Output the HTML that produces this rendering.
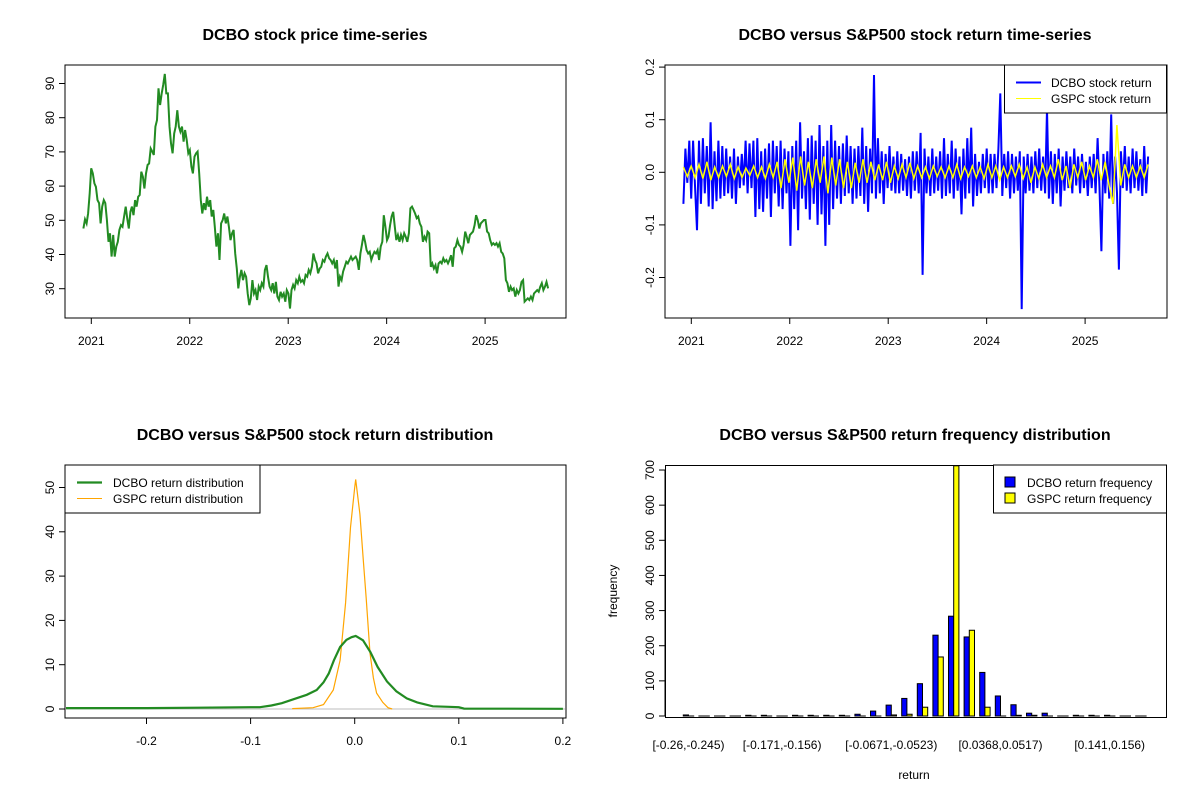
<!DOCTYPE html>
<html><head><meta charset="utf-8"><style>
body{margin:0;background:#fff}
svg{display:block;font-family:"Liberation Sans",Arial,sans-serif}
</style></head><body>
<svg id="c" width="1200" height="800" viewBox="0 0 1200 800" xmlns="http://www.w3.org/2000/svg">
<rect width="1200" height="800" fill="#fff"/>
<g font-weight="bold" font-size="16" text-anchor="middle">
<text x="315" y="40">DCBO stock price time-series</text>
<text x="915" y="40">DCBO versus S&amp;P500 stock return time-series</text>
<text x="315" y="440">DCBO versus S&amp;P500 stock return distribution</text>
<text x="915" y="440">DCBO versus S&amp;P500 return frequency distribution</text>
</g>
<text x="914" y="779" font-size="12" text-anchor="middle">return</text>
<text x="617" y="591" font-size="12" text-anchor="middle" transform="rotate(-90 617 591)">frequency</text>
</svg>
<script>
// ---- price series (DCBO), evenly spaced from start to end date
const priceStart = 2020.92, priceEnd = 2025.64;
const priceValues = [47.6,50.3,49.1,52.0,57.9,65.2,63.7,60.8,59.8,55.9,55.0,49.1,54.0,55.9,55.0,50.1,43.7,46.2,39.4,45.7,39.4,42.3,43.7,47.2,48.6,48.1,51.1,54.0,50.6,47.6,52.5,54.0,51.5,55.9,54.0,56.9,57.4,64.2,62.7,59.3,63.7,66.2,66.6,71.0,70.1,69.1,77.4,79.3,88.6,83.7,87.1,89.6,92.8,87.1,87.1,77.4,72.5,69.6,75.4,77.4,82.2,77.4,75.9,77.4,73.0,76.4,73.5,69.6,70.5,65.7,63.7,68.6,69.6,70.1,63.7,55.9,52.0,55.0,53.0,56.9,54.0,55.9,51.1,53.0,48.1,42.3,46.2,38.4,49.1,50.1,52.0,49.1,51.1,48.1,44.2,46.2,47.2,40.3,35.9,30.1,33.5,35.5,32.5,34.5,33.5,28.6,25.2,27.2,32.5,28.6,29.6,26.7,30.6,29.6,31.6,30.6,35.5,36.9,33.5,30.6,29.6,31.6,28.6,32.0,27.7,26.7,29.1,27.7,28.6,26.2,29.6,28.6,24.2,29.6,31.1,30.1,32.5,31.6,33.5,32.0,32.5,31.6,34.0,33.5,35.5,34.5,36.4,40.3,38.4,37.4,34.5,35.9,36.4,38.4,37.9,39.4,40.3,38.9,38.4,37.4,38.4,35.9,38.4,30.6,33.5,32.5,35.0,36.4,37.9,37.4,38.4,39.4,38.4,38.9,39.4,38.4,35.5,40.3,42.8,45.7,43.7,41.3,40.3,40.8,38.4,39.8,40.8,40.3,41.3,38.4,42.3,43.7,51.5,48.1,44.2,45.2,48.6,51.1,52.5,48.1,44.2,45.7,43.7,45.7,44.2,46.2,45.2,43.7,46.2,53.5,54.0,53.0,52.0,50.6,51.1,49.1,48.1,43.7,45.2,44.2,46.7,46.2,36.4,37.4,35.9,36.9,34.5,37.4,37.9,37.4,38.9,37.9,38.4,37.4,38.4,39.8,36.4,41.8,42.3,44.2,42.8,42.3,40.8,42.8,46.7,45.2,43.3,45.7,46.2,46.7,48.6,51.5,50.1,47.6,49.1,49.6,50.1,50.1,46.7,46.2,44.2,42.8,43.3,42.8,43.3,42.3,43.3,40.8,40.3,38.9,32.5,31.6,29.1,30.6,29.6,30.1,27.7,29.6,28.6,29.6,32.0,32.5,26.2,26.7,27.2,26.7,27.7,26.7,28.6,29.1,29.6,29.1,30.6,31.6,29.6,30.6,32.0,30.1];
const priceTicks = [30,40,50,60,70,80,90];
const yearTicks = [2021,2022,2023,2024,2025];
// ---- return series
const dcboReturns = [-0.06,0.045,-0.02,0.06,-0.05,0.06,-0.03,-0.11,0.06,-0.06,
0.065,-0.04,0.05,-0.065,0.095,-0.07,0.04,-0.055,0.06,-0.05,
0.05,-0.045,0.045,-0.04,0.03,-0.05,0.045,-0.06,0.03,-0.03,
0.035,-0.025,0.06,-0.04,0.055,-0.03,0.06,-0.085,0.065,-0.07,
0.04,-0.075,0.045,-0.05,0.055,-0.085,0.06,-0.04,0.05,-0.065,
0.06,-0.07,0.045,-0.04,0.04,-0.14,0.05,-0.07,0.06,-0.11,
0.095,-0.05,0.04,-0.07,0.065,-0.09,0.07,-0.06,0.06,-0.1,
0.09,-0.08,0.05,-0.14,0.06,-0.1,0.09,-0.07,0.06,-0.05,
0.05,-0.06,0.055,-0.045,0.07,-0.04,0.05,-0.06,0.045,-0.05,
0.05,-0.045,0.085,-0.06,0.05,-0.075,0.045,-0.04,0.185,-0.05,
0.065,-0.04,0.04,-0.06,0.035,-0.03,0.05,-0.035,0.03,-0.04,
0.04,-0.04,0.035,-0.035,0.025,-0.045,0.03,-0.05,0.04,-0.035,
0.04,-0.04,0.075,-0.195,0.045,-0.04,0.03,-0.045,0.045,-0.04,
0.03,-0.035,0.04,-0.05,0.065,-0.045,0.035,-0.04,0.06,-0.05,
0.045,-0.035,0.03,-0.08,0.045,-0.05,0.065,-0.04,0.085,-0.065,
0.035,-0.045,0.02,-0.04,0.035,-0.03,0.045,-0.04,0.035,-0.04,
0.035,-0.03,0.045,0.15,-0.045,0.035,-0.03,0.04,-0.05,0.035,
-0.04,0.03,-0.035,0.04,-0.26,0.03,-0.04,0.035,-0.035,0.03,
-0.04,0.04,-0.03,0.045,-0.035,0.03,-0.04,0.12,-0.05,0.04,
-0.06,0.035,-0.04,0.045,-0.065,0.03,-0.035,0.04,-0.03,0.03,
-0.04,0.045,-0.025,0.03,-0.04,0.035,-0.03,0.02,-0.045,0.03,
-0.03,0.035,-0.04,0.065,-0.03,-0.15,0.035,-0.04,0.04,-0.05,
0.11,-0.06,0.03,-0.04,-0.185,0.04,-0.03,0.05,-0.035,0.03,
-0.04,0.045,-0.03,0.04,-0.035,0.025,-0.045,0.05,-0.04,0.03];
const gspcReturns = [0.01,-0.008,0.012,-0.01,0.015,-0.012,0.02,-0.015,0.01,-0.01,0.012,-0.008,0.015,-0.012,0.01,-0.01,0.008,-0.006,0.012,-0.01,
0.01,-0.012,0.015,-0.01,0.02,-0.03,0.025,-0.02,0.028,-0.035,0.03,-0.025,0.02,-0.03,0.025,-0.02,0.03,-0.04,0.028,-0.025,
0.025,-0.03,0.02,-0.03,0.018,-0.02,0.025,-0.02,0.02,-0.015,0.015,-0.015,0.02,-0.02,0.012,-0.012,0.015,-0.01,0.018,-0.012,
0.012,-0.01,0.01,-0.012,0.012,-0.008,0.01,-0.01,0.012,-0.01,0.015,-0.012,0.01,-0.008,0.012,-0.01,0.01,-0.012,0.015,-0.01,
0.012,-0.015,0.01,-0.01,0.012,-0.008,0.015,-0.012,0.01,-0.02,0.01,-0.012,0.015,-0.01,0.012,-0.01,0.025,-0.015,0.012,-0.03,
0.015,-0.01,0.02,-0.015,0.012,-0.01,0.025,-0.015,0.02,-0.025,-0.06,0.09,-0.025,0.015,-0.01,0.012,-0.01,0.012,-0.01,0.015];
const returnTicks = [-0.2,-0.1,0,0.1,0.2];
const returnTickLabels = ["-0.2","-0.1","0.0","0.1","0.2"];
// ---- densities
const dcboDensX = [-0.28,-0.2,-0.15,-0.1,-0.091,-0.08,-0.07,-0.059,-0.046,-0.0365,-0.03,-0.025,-0.02,-0.014,-0.008,-0.003,0.001,0.008,0.015,0.022,0.031,0.04,0.05,0.06,0.075,0.09,0.1,0.105,0.2];
const dcboDensY = [0.2,0.2,0.3,0.4,0.4,0.8,1.3,2.2,3.2,4.3,6.0,8.0,11.0,14.0,15.6,16.2,16.5,15.5,12.9,9.5,6.2,4.0,2.4,1.5,0.6,0.5,0.4,0.1,0.05];
const gspcDensX = [-0.06,-0.04,-0.03,-0.0206,-0.014,-0.0087,-0.004,0,0.001,0.005,0.0083,0.011,0.0147,0.018,0.021,0.027,0.032,0.036];
const gspcDensY = [0.1,0.3,1.0,4.3,11,24,41,50,51.8,44,33.6,25,12.6,7,3.6,1.5,0.3,0];
const densXTicks = [-0.2,-0.1,0,0.1,0.2];
const densXLabels = ["-0.2","-0.1","0.0","0.1","0.2"];
const densYTicks = [0,10,20,30,40,50];
// ---- histogram
const binLabels = ["[-0.26,-0.245)","","","","","","[-0.171,-0.156)","","","","","","","[-0.0671,-0.0523)","","","","","","","[0.0368,0.0517)","","","","","","","[0.141,0.156)","",""];
const dcboCounts = [3,0,0,0,2,2,0,2,2,2,2,5,14,31,50,92,230,284,225,124,57,32,8,8,0,2,2,2,0,0];
const gspcCounts = [0,0,0,0,0,0,0,0,0,0,0,0,0,3,5,25,168,712,244,25,0,2,2,0,0,0,0,0,0,0];
const freqTicks = [0,100,200,300,400,500,600,700];

const svg = document.getElementById('c');
const NS = 'http://www.w3.org/2000/svg';
function mk(tag, attrs, parent){
  const e = document.createElementNS(NS, tag);
  for (const k in attrs) e.setAttribute(k, attrs[k]);
  (parent||svg).appendChild(e);
  return e;
}
function txt(x,y,s,size,anchor,rot){
  const t = mk('text',{x:x,y:y,'font-size':size,'text-anchor':anchor||'middle'});
  if (rot) t.setAttribute('transform','rotate(-90 '+x+' '+y+')');
  t.textContent = s;
  return t;
}
const yearX = (off) => (yr) => off + 91.3 + (yr-2021)*98.45;
function frame(x0,y0,x1,y1,name){
  const r = mk('rect',{x:x0,y:y0,width:x1-x0,height:y1-y0,fill:'none',stroke:'#000','stroke-width':1});
  
  
}
function yAxis(x0,ticks,labels,ymap,name){
  const g = mk('g',{});
  
  
  mk('line',{x1:x0,x2:x0,y1:ymap(ticks[0]),y2:ymap(ticks[ticks.length-1]),stroke:'#000'},g);
  ticks.forEach((v,i)=>{
    const y = ymap(v);
    mk('line',{x1:x0-6,x2:x0,y1:y,y2:y,stroke:'#000'},g);
    const t = txt(x0-11,y,labels[i],12,'middle',true); g.appendChild(t);
  });
}
function xAxis(y0,ticks,labels,xmap,name){
  const g = mk('g',{});
  
  
  mk('line',{x1:xmap(ticks[0]),x2:xmap(ticks[ticks.length-1]),y1:y0,y2:y0,stroke:'#000'},g);
  ticks.forEach((v,i)=>{
    const x = xmap(v);
    mk('line',{x1:x,x2:x,y1:y0,y2:y0+6,stroke:'#000'},g);
    const t = txt(x,y0+27,labels[i],12,'middle'); g.appendChild(t);
  });
}

// ===== Panel 1: price
{
  const xm = yearX(0);
  const ym = v => 288.7 - (v-30)*3.42;
  frame(65,65,566,318,'price-plot-frame');
  yAxis(65,priceTicks,priceTicks.map(String),ym,'price-y-axis');
  xAxis(318,yearTicks,yearTicks.map(String),xm,'price-x-axis');
  const n = priceValues.length;
  const pts = priceValues.map((v,i)=> xm(priceStart + i*(priceEnd-priceStart)/(n-1)).toFixed(1)+','+ym(v).toFixed(1)).join(' ');
  const l = mk('polyline',{points:pts,fill:'none',stroke:'#228B22','stroke-width':2,'stroke-linejoin':'miter'});
  
  
}
// ===== Panel 2: returns
{
  const xm = yearX(600);
  const ym = v => 172.3 - v*526;
  frame(665,65,1167,318,'return-plot-frame');
  yAxis(665,returnTicks,returnTickLabels,ym,'return-y-axis');
  xAxis(318,yearTicks,yearTicks.map(String),xm,'return-x-axis');
  const nb = dcboReturns.length;
  const pb = dcboReturns.map((v,i)=> xm(priceStart + i*(priceEnd-priceStart)/(nb-1)).toFixed(1)+','+ym(v).toFixed(1)).join(' ');
  const lb = mk('polyline',{points:pb,fill:'none',stroke:'#0000FF','stroke-width':2});
  
  
  const ng = gspcReturns.length;
  const pg = gspcReturns.map((v,i)=> xm(priceStart + i*(priceEnd-priceStart)/(ng-1)).toFixed(1)+','+ym(v).toFixed(1)).join(' ');
  const lg = mk('polyline',{points:pg,fill:'none',stroke:'#FFFF00','stroke-width':1.5});
  
  
  const leg = mk('g',{});
  
  
  mk('rect',{x:1004.5,y:65,width:162,height:48,fill:'#fff',stroke:'#000'},leg);
  mk('line',{x1:1016,x2:1041,y1:82.5,y2:82.5,stroke:'#0000FF','stroke-width':2},leg);
  mk('line',{x1:1016,x2:1041,y1:98.5,y2:98.5,stroke:'#FFFF00','stroke-width':1},leg);
  leg.appendChild(txt(1051,87,'DCBO stock return',12,'start'));
  leg.appendChild(txt(1051,103,'GSPC stock return',12,'start'));
}
// ===== Panel 3: densities
{
  const xm = v => 354.7 + v*1041;
  const ym = v => 709 - v*4.43;
  frame(65,465,566,718,'density-plot-frame');
  yAxis(65,densYTicks,densYTicks.map(String),ym,'density-y-axis');
  xAxis(718,densXTicks,densXLabels,xm,'density-x-axis');
  const z = mk('line',{x1:66,x2:565,y1:ym(0),y2:ym(0),stroke:'#BEBEBE'});
  
  
  const pg = gspcDensX.map((x,i)=> xm(x).toFixed(1)+','+ym(gspcDensY[i]).toFixed(1)).join(' ');
  const lg = mk('polyline',{points:pg,fill:'none',stroke:'#FFA500','stroke-width':1.2});
  
  
  const pd = dcboDensX.map((x,i)=> Math.max(66,xm(x)).toFixed(1)+','+ym(dcboDensY[i]).toFixed(1)).join(' ');
  const ld = mk('polyline',{points:pd,fill:'none',stroke:'#228B22','stroke-width':2.2});
  
  
  const leg = mk('g',{});
  
  
  mk('rect',{x:65,y:465,width:195,height:48,fill:'#fff',stroke:'#000'},leg);
  mk('line',{x1:77,x2:102,y1:482.5,y2:482.5,stroke:'#228B22','stroke-width':2.2},leg);
  mk('line',{x1:77,x2:102,y1:498.5,y2:498.5,stroke:'#FFA500','stroke-width':1},leg);
  leg.appendChild(txt(113,487,'DCBO return distribution',12,'start'));
  leg.appendChild(txt(113,503,'GSPC return distribution',12,'start'));
}
// ===== Panel 4: histogram
{
  const maxC = Math.max(...dcboCounts, ...gspcCounts);
  const ym = v => 716 - v*(250.2/maxC);
  const unit = 5.2, x0 = 683.3;
  frame(665.5,465.5,1166.5,717.5,'histogram-plot-frame');
  yAxis(665,freqTicks,freqTicks.map(String),v=>716 - v*0.3514,'histogram-y-axis');
  const bars = mk('g',{});
  
  
  dcboCounts.forEach((c,i)=>{
    const x = x0 + i*3*unit;
    const b = mk('rect',{x:x,y:ym(c),width:unit,height:Math.max(0.01,ym(0)-ym(c)),fill:'#0000FF',stroke:'#000','stroke-width':1},bars);
    
    
    const g = gspcCounts[i];
    const b2 = mk('rect',{x:x+unit,y:ym(g),width:unit,height:Math.max(0.01,ym(0)-ym(g)),fill:'#FFFF00',stroke:'#000','stroke-width':1},bars);
    
    
    if (binLabels[i]) {
      const t = txt(x+unit, 749, binLabels[i], 12, 'middle');
      
      
    }
  });
  const leg = mk('g',{});
  
  
  mk('rect',{x:993.5,y:465,width:173,height:48,fill:'#fff',stroke:'#000'},leg);
  mk('rect',{x:1005,y:477,width:10,height:10,fill:'#0000FF',stroke:'#000'},leg);
  mk('rect',{x:1005,y:493,width:10,height:10,fill:'#FFFF00',stroke:'#000'},leg);
  leg.appendChild(txt(1027,487,'DCBO return frequency',12,'start'));
  leg.appendChild(txt(1027,503,'GSPC return frequency',12,'start'));
}
</script>
</body></html>
